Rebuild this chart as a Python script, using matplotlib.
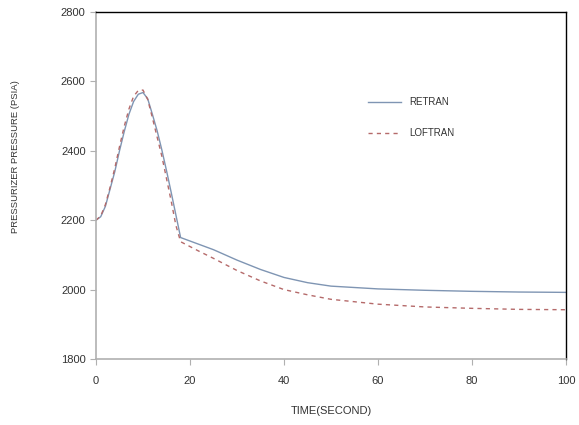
import matplotlib
matplotlib.use('Agg')
import matplotlib.pyplot as plt

# data
t_retran = [0, 1, 2, 3, 4, 5, 6, 7, 8, 9, 10, 11, 12, 13, 14, 15, 16, 17, 18,
            22, 25, 30, 35, 40, 45, 50, 60, 70, 80, 90, 100]
p_retran = [2200, 2210, 2240, 2290, 2340, 2400, 2455, 2505, 2542, 2563, 2568, 2550,
            2505, 2458, 2403, 2343, 2280, 2215, 2150,
            2130, 2115, 2085, 2058, 2035, 2020, 2010, 2002, 1998, 1995, 1993, 1992]
t_loftran = [0, 1, 2, 3, 4, 5, 6, 7, 8, 9, 10, 11, 12, 13, 14, 15, 16, 17, 18,
             22, 25, 30, 35, 40, 45, 50, 60, 70, 80, 90, 100]
p_loftran = [2200, 2212, 2245, 2295, 2350, 2412, 2470, 2520, 2557, 2574, 2575, 2548,
             2495, 2440, 2385, 2320, 2255, 2185, 2138,
             2110, 2090, 2055, 2025, 2000, 1985, 1972, 1958, 1950, 1946, 1943, 1942]

plt.rcParams['font.family'] = ['Liberation Sans', 'DejaVu Sans']

fig = plt.figure(figsize=(5.79, 4.25), dpi=100)
ax = fig.add_axes([96 / 579, 1 - 359 / 425, 470 / 579, 347 / 425])

ax.plot(t_retran, p_retran, color='#7f95b3', lw=1.0, label='RETRAN')
ax.plot(t_loftran, p_loftran, color='#b56a6a', lw=1.0, ls=(0, (3, 3)), label='LOFTRAN')

ax.set_xlim(0, 100)
ax.set_ylim(1800, 2800)
ax.set_xticks([0, 20, 40, 60, 80, 100])
ax.set_yticks([1800, 2000, 2200, 2400, 2600, 2800])

for s in ['left', 'bottom']:
    ax.spines[s].set_color('#b0b0b0')
    ax.spines[s].set_linewidth(1.2)
for s in ['top', 'right']:
    ax.spines[s].set_color('black')
    ax.spines[s].set_linewidth(1.0)

ax.tick_params(axis='both', colors='#b0b0b0', labelcolor='#333333', labelsize=8,
               length=4, direction='out')
ax.tick_params(axis='x', pad=8)

ax.set_xlabel('TIME(SECOND)', fontsize=8, color='#333333', labelpad=15)
# y label sits above the axes centre in the original
fig.text(16 / 579, 1 - 157 / 425, 'PRESSURIZER PRESSURE (PSIA)', fontsize=6.8,
         color='#333333', rotation=90, ha='center', va='center')

ax.legend(loc='upper left', bbox_to_anchor=(0.56, 0.78), frameon=False, fontsize=7,
          handlelength=3.4, labelspacing=2.2, labelcolor='#333333')

fig.savefig('out.png', dpi=100)
